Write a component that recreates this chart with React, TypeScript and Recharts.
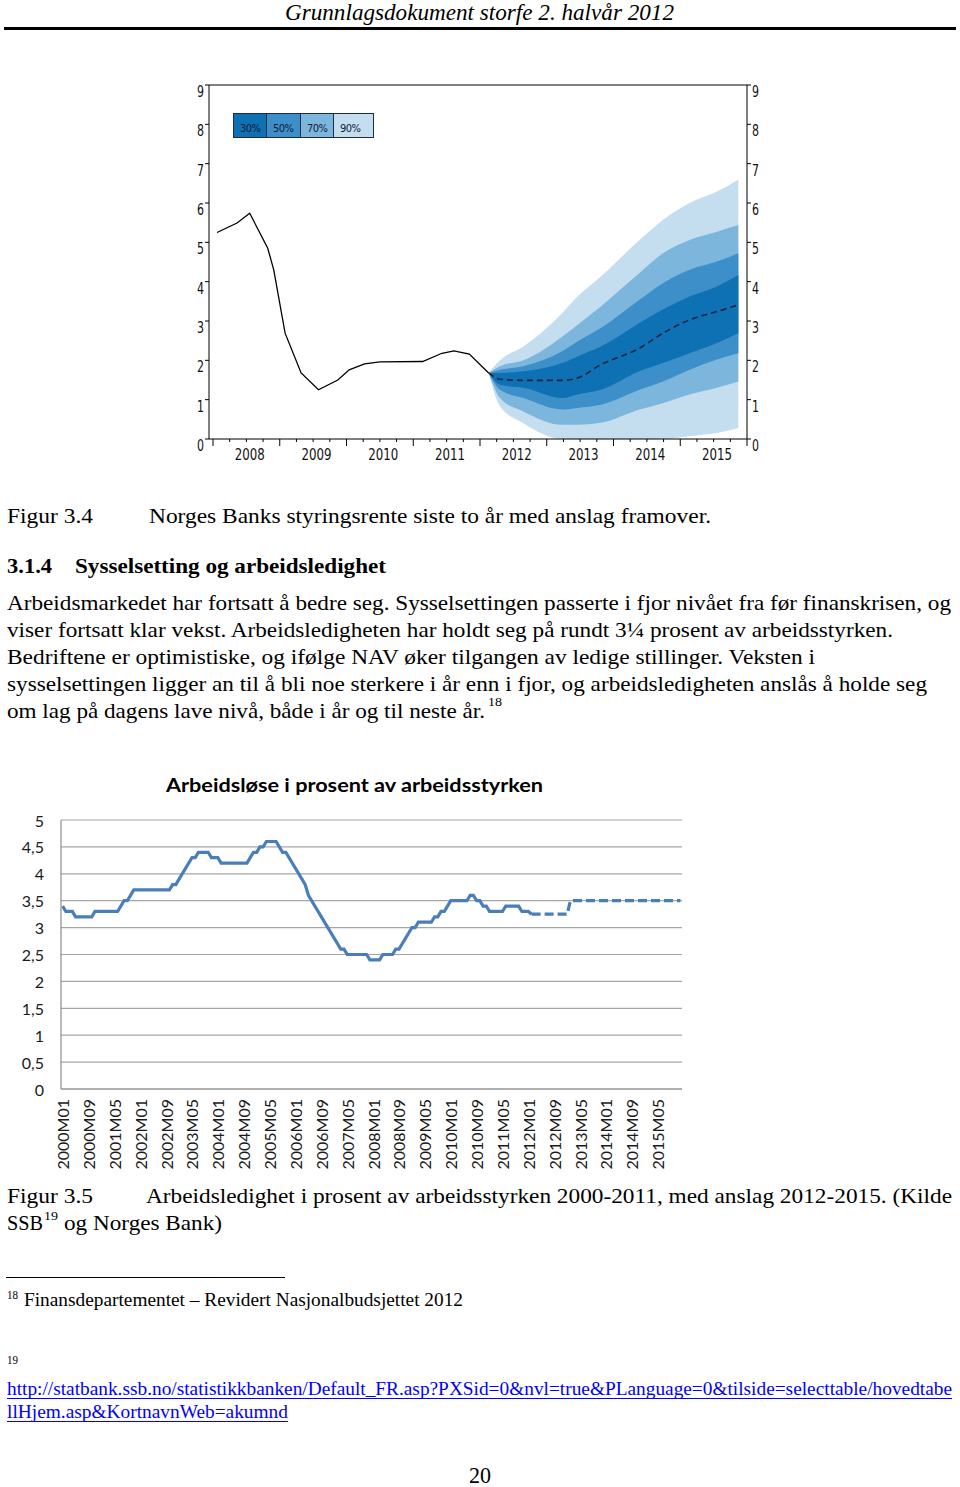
import React from 'react';
import {
  ComposedChart,
  LineChart,
  Line,
  Area,
  XAxis,
  YAxis,
  CartesianGrid,
  ReferenceLine,
} from 'recharts';

// Figur 3.4 - styringsrenten, historikk (årstall som desimaltall)
const rateYears = [2008.06, 2008.36, 2008.55, 2008.82, 2008.91, 2009.08, 2009.32, 2009.58, 2009.87, 2010.04, 2010.27, 2010.5, 2011.14, 2011.43, 2011.61, 2011.84, 2012.13];
const rateValues = [5.25, 5.49, 5.74, 4.85, 4.3, 2.69, 1.68, 1.25, 1.5, 1.76, 1.91, 1.96, 1.97, 2.18, 2.24, 2.16, 1.68];

// anslag med usikkerhetsvifte
const fanYears = [2012.13, 2012.3, 2012.65, 2013.23, 2013.46, 2013.81, 2014.39, 2014.74, 2015.14, 2015.55, 2015.87];
const fanMedian = [1.68, 1.52, 1.49, 1.49, 1.55, 1.89, 2.31, 2.69, 3.03, 3.24, 3.41];
const fanLow30 = [1.68, 1.38, 1.3, 1.04, 1.13, 1.25, 1.72, 1.93, 2.18, 2.44, 2.69];
const fanHigh30 = [1.68, 1.68, 1.72, 1.93, 2.1, 2.35, 2.95, 3.29, 3.62, 3.88, 4.17];
const fanLow50 = [1.68, 1.25, 1.04, 0.75, 0.79, 0.87, 1.25, 1.46, 1.76, 2.02, 2.18];
const fanHigh50 = [1.68, 1.76, 1.85, 2.23, 2.48, 2.82, 3.54, 3.96, 4.3, 4.51, 4.72];
const fanLow70 = [1.68, 1.04, 0.7, 0.36, 0.36, 0.41, 0.75, 0.91, 1.13, 1.3, 1.46];
const fanHigh70 = [1.68, 1.85, 2.0, 2.6, 2.9, 3.37, 4.22, 4.72, 5.06, 5.27, 5.44];
const fanLow90 = [1.68, 0.83, 0.4, 0, 0, 0, 0, 0, 0.07, 0.15, 0.28];
const fanHigh90 = [1.68, 2.0, 2.35, 3.2, 3.62, 4.13, 5.06, 5.57, 6.0, 6.29, 6.59];

const yearLabels = ['2008', '2009', '2010', '2011', '2012', '2013', '2014', '2015'];
const rateTicks = [0, 1, 2, 3, 4, 5, 6, 7, 8, 9];
const fanLegend = ['30%', '50%', '70%', '90%'];
const fanColors = ['#0e71b3', '#3d8fc9', '#7cb6dd', '#c4def0'];

// Figur 3.5 - arbeidsledighet (AKU), månedlig fra 2000M01
const unemployment = [
  3.4, 3.3, 3.3, 3.3, 3.2, 3.2, 3.2, 3.2, 3.2, 3.2,
  3.3, 3.3, 3.3, 3.3, 3.3, 3.3, 3.3, 3.3, 3.4, 3.5,
  3.5, 3.6, 3.7, 3.7, 3.7, 3.7, 3.7, 3.7, 3.7, 3.7,
  3.7, 3.7, 3.7, 3.7, 3.8, 3.8, 3.9, 4.0, 4.1, 4.2,
  4.3, 4.3, 4.4, 4.4, 4.4, 4.4, 4.3, 4.3, 4.3, 4.2,
  4.2, 4.2, 4.2, 4.2, 4.2, 4.2, 4.2, 4.2, 4.3, 4.4,
  4.4, 4.5, 4.5, 4.6, 4.6, 4.6, 4.6, 4.5, 4.4, 4.4,
  4.3, 4.2, 4.1, 4.0, 3.9, 3.8, 3.6, 3.5, 3.4, 3.3,
  3.2, 3.1, 3.0, 2.9, 2.8, 2.7, 2.6, 2.6, 2.5, 2.5,
  2.5, 2.5, 2.5, 2.5, 2.5, 2.4, 2.4, 2.4, 2.4, 2.5,
  2.5, 2.5, 2.5, 2.6, 2.6, 2.7, 2.8, 2.9, 3.0, 3.0,
  3.1, 3.1, 3.1, 3.1, 3.1, 3.2, 3.2, 3.3, 3.3, 3.4,
  3.5, 3.5, 3.5, 3.5, 3.5, 3.5, 3.6, 3.6, 3.5, 3.5,
  3.4, 3.4, 3.3, 3.3, 3.3, 3.3, 3.3, 3.4, 3.4, 3.4,
  3.4, 3.4, 3.3, 3.3, 3.3, 3.25,
];
// anslag 2012M02-2015M12
const forecastStart = 145;
const unemploymentForecast = [
  3.25, 3.25, 3.25, 3.25, 3.25, 3.25, 3.25, 3.25, 3.25, 3.25, 3.25, 3.25,
  3.5, 3.5, 3.5, 3.5, 3.5, 3.5, 3.5, 3.5, 3.5, 3.5,
  3.5, 3.5, 3.5, 3.5, 3.5, 3.5, 3.5, 3.5, 3.5, 3.5,
  3.5, 3.5, 3.5, 3.5, 3.5, 3.5, 3.5, 3.5, 3.5, 3.5,
  3.5, 3.5, 3.5, 3.5, 3.5,
];
const monthLabels = [
  '2000M01', '2000M09', '2001M05', '2002M01', '2002M09', '2003M05', '2004M01', '2004M09',
  '2005M05', '2006M01', '2006M09', '2007M05', '2008M01', '2008M09', '2009M05', '2010M01',
  '2010M09', '2011M05', '2012M01', '2012M09', '2013M05', '2014M01', '2014M09', '2015M05',
];
const pctTicks = [0, 0.5, 1, 1.5, 2, 2.5, 3, 3.5, 4, 4.5, 5];

const monthIndex = (label: string) =>
  (Number(label.slice(0, 4)) - 2000) * 12 + Number(label.slice(5)) - 1;

const CHART_FONT = "'DejaVu Sans Condensed', 'DejaVu Sans', sans-serif";
const SERIF = "'Liberation Serif', 'Times New Roman', serif";
const CALIBRI_LIKE = "Lato, 'Open Sans', sans-serif";

const chart1Data = (() => {
  const rows: Record<string, number>[] = [];
  rateYears.forEach((t, k) => rows.push({ t, rate: rateValues[k] }));
  fanYears.forEach((t, k) => {
    const row = {
      t,
      med: fanMedian[k],
      l30: fanLow30[k],
      h30: fanHigh30[k],
      l50: fanLow50[k],
      h50: fanHigh50[k],
      l70: fanLow70[k],
      h70: fanHigh70[k],
      l90: fanLow90[k],
      h90: fanHigh90[k],
    };
    const same = rows.find((r) => r.t === t);
    if (same) Object.assign(same, row);
    else rows.push(row);
  });
  return rows.sort((a, b) => a.t - b.t);
})();

const chart2Data = Array.from({ length: 192 }, (_, i) => ({
  i,
  actual: i < unemployment.length ? unemployment[i] : null,
  forecast: i >= forecastStart ? unemploymentForecast[i - forecastStart] : null,
}));

const quarterTicks: number[] = [];
for (let q = 0; q <= 32; q++) quarterTicks.push(2008 + q / 4);
const labelTicks = yearLabels.map((y) => Number(y) + 0.55);

const band = (lo: string, hi: string) => (d: any) =>
  d[lo] == null ? null : [d[lo], d[hi]];

function YearTick(props: any) {
  const { x, y, payload } = props;
  const v = payload.value;
  const idx = labelTicks.indexOf(v);
  if (idx >= 0) {
    return (
      <text
        x={x - 15}
        y={y + 21}
        fontSize={15}
        fontFamily={CHART_FONT}
        fill="#111"
        textLength={30}
        lengthAdjust="spacingAndGlyphs"
      >
        {yearLabels[idx]}
      </text>
    );
  }
  const major = Number.isInteger(v);
  return <line x1={x} x2={x} y1={y} y2={y + (major ? 7 : 3)} stroke="#000" strokeWidth={1} />;
}

function LeftRateTick(props: any) {
  const { x, y, payload } = props;
  return (
    <text
      x={x - 7}
      y={y + 12}
      fontSize={15}
      fontFamily={CHART_FONT}
      fill="#111"
      textLength={7}
      lengthAdjust="spacingAndGlyphs"
    >
      {payload.value}
    </text>
  );
}

function RightRateTick(props: any) {
  const { x, y, payload } = props;
  return (
    <text
      x={x}
      y={y + 12}
      fontSize={15}
      fontFamily={CHART_FONT}
      fill="#111"
      textLength={7}
      lengthAdjust="spacingAndGlyphs"
    >
      {payload.value}
    </text>
  );
}

function MonthTick(props: any) {
  const { x, y, payload } = props;
  const label = monthLabels.find((m) => monthIndex(m) === payload.value) || '';
  return (
    <text
      x={x}
      y={y + 10}
      transform={`rotate(-90, ${x}, ${y + 10})`}
      textAnchor="end"
      dominantBaseline="central"
      fontSize={16}
      fontFamily={CALIBRI_LIKE}
      fill="#1a1a1a"
    >
      {label}
    </text>
  );
}

function PctTick(props: any) {
  const { x, y, payload } = props;
  return (
    <text
      x={x}
      y={y}
      textAnchor="end"
      dominantBaseline="central"
      fontSize={16}
      fontFamily={CALIBRI_LIKE}
      fill="#1a1a1a"
    >
      {String(payload.value).replace('.', ',')}
    </text>
  );
}

function FanChart() {
  return (
    <div style={{ position: 'absolute', left: 169, top: 60 }}>
      <ComposedChart
        width={620}
        height={414}
        data={chart1Data}
        margin={{ top: 25, right: 12, left: 10, bottom: 5 }}
      >
        <XAxis
          dataKey="t"
          type="number"
          domain={[2007.94, 2016]}
          allowDataOverflow
          ticks={[...quarterTicks, ...labelTicks]}
          interval={0}
          tick={<YearTick />}
          tickLine={false}
          tickSize={0}
          tickMargin={0}
          axisLine={{ stroke: '#000' }}
          height={30}
        />
        <YAxis
          yAxisId="left"
          domain={[0, 9]}
          ticks={rateTicks}
          interval={0}
          tick={<LeftRateTick />}
          tickSize={4}
          tickMargin={1}
          tickLine={{ stroke: '#000' }}
          axisLine={{ stroke: '#000' }}
          width={30}
        />
        <YAxis
          yAxisId="right"
          orientation="right"
          domain={[0, 9]}
          ticks={rateTicks}
          interval={0}
          tick={<RightRateTick />}
          tickSize={4}
          tickMargin={1}
          tickLine={{ stroke: '#000' }}
          axisLine={{ stroke: '#000' }}
          width={30}
        />
        <ReferenceLine yAxisId="right" y={9} stroke="#000" ifOverflow="visible" />
        <Area yAxisId="left" type="monotone" dataKey={band('l90', 'h90')} fill={fanColors[3]} fillOpacity={1} stroke="none" isAnimationActive={false} />
        <Area yAxisId="left" type="monotone" dataKey={band('l70', 'h70')} fill={fanColors[2]} fillOpacity={1} stroke="none" isAnimationActive={false} />
        <Area yAxisId="left" type="monotone" dataKey={band('l50', 'h50')} fill={fanColors[1]} fillOpacity={1} stroke="none" isAnimationActive={false} />
        <Area yAxisId="left" type="monotone" dataKey={band('l30', 'h30')} fill={fanColors[0]} fillOpacity={1} stroke="none" isAnimationActive={false} />
        <Line yAxisId="left" type="linear" dataKey="rate" stroke="#000" strokeWidth={1.3} dot={false} isAnimationActive={false} />
        <Line yAxisId="right" type="monotone" dataKey="med" stroke="#13233f" strokeWidth={1.6} strokeDasharray="6 4" dot={false} isAnimationActive={false} />
      </ComposedChart>
      <div
        style={{
          position: 'absolute',
          left: 233 - 169,
          top: 113 - 60,
          display: 'flex',
          border: '1px solid #1c2c44',
          height: 23,
        }}
      >
        {fanLegend.map((l, k) => (
          <div
            key={l}
            style={{
              width: [32, 34, 33, 40][k],
              background: fanColors[k],
              borderLeft: k ? '1px solid #1c2c44' : 'none',
              fontFamily: CHART_FONT,
              fontStretch: 'condensed',
              fontSize: 11,
              letterSpacing: -0.5,
              color: '#10203a',
              paddingLeft: 6,
              boxSizing: 'border-box',
              lineHeight: '30px',
              height: 23,
            }}
          >
            {l}
          </div>
        ))}
      </div>
    </div>
  );
}

function UnemploymentChart() {
  return (
    <div style={{ position: 'absolute', left: 11, top: 810 }}>
      <LineChart
        width={681}
        height={369}
        data={chart2Data}
        margin={{ top: 10, right: 10, left: 5, bottom: 5 }}
      >
        <CartesianGrid vertical={false} stroke="#a6a6a6" strokeWidth={1.2} />
        <XAxis
          dataKey="i"
          type="number"
          domain={[-0.5, 191.5]}
          ticks={monthLabels.map(monthIndex)}
          interval={0}
          tick={<MonthTick />}
          tickLine={false}
          tickSize={0}
          tickMargin={0}
          axisLine={{ stroke: '#8c8c8c', strokeWidth: 1.2 }}
          height={85}
        />
        <YAxis
          domain={[0, 5]}
          ticks={pctTicks}
          interval={0}
          tick={<PctTick />}
          tickLine={false}
          tickSize={0}
          tickMargin={17}
          axisLine={{ stroke: '#8c8c8c', strokeWidth: 1.2 }}
          width={45}
        />
        <Line type="linear" dataKey="actual" stroke="#4a7ebb" strokeWidth={3.2} dot={false} isAnimationActive={false} />
        <Line type="linear" dataKey="forecast" stroke="#4a7ebb" strokeWidth={3.2} strokeDasharray="9 4" dot={false} isAnimationActive={false} />
      </LineChart>
    </div>
  );
}

function T(props: {
  x: number;
  y: number;
  w?: number;
  size: number;
  children: React.ReactNode;
  bold?: boolean;
  italic?: boolean;
  fill?: string;
  font?: string;
}) {
  return (
    <text
      x={props.x}
      y={props.y}
      fontSize={props.size}
      fontFamily={props.font || SERIF}
      fontWeight={props.bold ? 700 : 400}
      fontStyle={props.italic ? 'italic' : 'normal'}
      fill={props.fill || '#000'}
      textLength={props.w}
      lengthAdjust={props.w ? 'spacingAndGlyphs' : undefined}
    >
      {props.children}
    </text>
  );
}

function PageText() {
  return (
    <svg width={960} height={1487} style={{ position: 'absolute', left: 0, top: 0, pointerEvents: 'none' }}>
      <T x={285} y={20} w={389} size={23} italic>Grunnlagsdokument storfe 2. halvår 2012</T>
      <rect x={4} y={27} width={952} height={3} fill="#000" />

      <T x={7} y={523} w={86} size={21}>Figur 3.4</T>
      <T x={149} y={523} w={562} size={21}>Norges Banks styringsrente siste to år med anslag framover.</T>

      <T x={7} y={573} w={45} size={21} bold>3.1.4</T>
      <T x={75} y={573} w={311} size={21} bold>Sysselsetting og arbeidsledighet</T>

      <T x={7} y={610} w={944} size={21}>Arbeidsmarkedet har fortsatt å bedre seg. Sysselsettingen passerte i fjor nivået fra før finanskrisen, og</T>
      <T x={7} y={637} w={886} size={21}>viser fortsatt klar vekst. Arbeidsledigheten har holdt seg på rundt 3¼ prosent av arbeidsstyrken.</T>
      <T x={7} y={664} w={808} size={21}>Bedriftene er optimistiske, og ifølge NAV øker tilgangen av ledige stillinger. Veksten i</T>
      <T x={7} y={691} w={920} size={21}>sysselsettingen ligger an til å bli noe sterkere i år enn i fjor, og arbeidsledigheten anslås å holde seg</T>
      <T x={7} y={718} w={478} size={21}>om lag på dagens lave nivå, både i år og til neste år.</T>
      <T x={488} y={706} w={14} size={13}>18</T>

      <T x={166} y={792} w={377} size={18} bold font={CALIBRI_LIKE}>Arbeidsløse i prosent av arbeidsstyrken</T>

      <T x={7} y={1203} w={86} size={21}>Figur 3.5</T>
      <T x={146} y={1203} w={806} size={21}>Arbeidsledighet i prosent av arbeidsstyrken 2000-2011, med anslag 2012-2015. (Kilde</T>
      <T x={7} y={1230} w={36} size={21}>SSB</T>
      <T x={44} y={1220} w={14} size={13}>19</T>
      <T x={64} y={1230} w={158} size={21}>og Norges Bank)</T>

      <rect x={6} y={1277} width={279} height={1} fill="#000" />
      <T x={7} y={1299} w={11} size={12}>18</T>
      <T x={24} y={1306} w={439} size={19}>Finansdepartementet – Revidert Nasjonalbudsjettet 2012</T>
      <T x={7} y={1364} w={11} size={12}>19</T>

      <T x={7} y={1395} w={945} size={19} fill="#0000ff">http://statbank.ssb.no/statistikkbanken/Default_FR.asp?PXSid=0&amp;nvl=true&amp;PLanguage=0&amp;tilside=selecttable/hovedtabe</T>
      <rect x={7} y={1398} width={945} height={1} fill="#0000ff" />
      <T x={7} y={1418} w={281} size={19} fill="#0000ff">llHjem.asp&amp;KortnavnWeb=akumnd</T>
      <rect x={7} y={1421} width={281} height={1} fill="#0000ff" />

      <T x={469} y={1483} w={22} size={23}>20</T>
    </svg>
  );
}

export default function App() {
  return (
    <div style={{ position: 'absolute', left: 0, top: 0, width: 960, height: 1487, background: '#fff', overflow: 'hidden' }}>
      <FanChart />
      <UnemploymentChart />
      <PageText />
    </div>
  );
}
